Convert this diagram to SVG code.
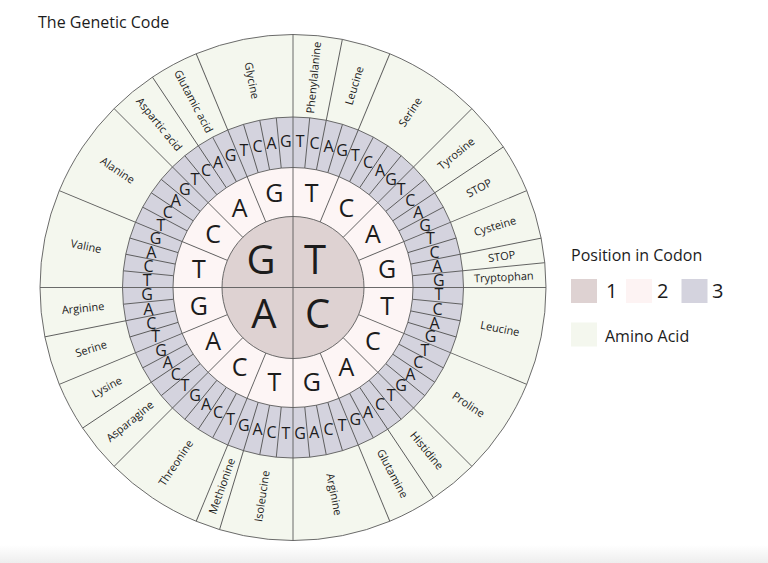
<svg xmlns="http://www.w3.org/2000/svg" xmlns:xlink="http://www.w3.org/1999/xlink" width="768" height="563" viewBox="0 0 768 563">
<defs>
<style>
.ln{stroke:#5a5a5a;stroke-width:0.9}
.t{font-family:"Open Sans","Noto Sans",sans-serif;fill:#1c1c1c}
.b3{font-size:16px;text-anchor:middle}
.b2{font-size:25px;text-anchor:middle}
.b1{font-size:40px;text-anchor:middle}
.aa{font-size:11px;text-anchor:middle}
</style>
<linearGradient id="shade" x1="0" y1="0" x2="0" y2="1">
<stop offset="0" stop-color="#ffffff"/>
<stop offset="1" stop-color="#eeeeee"/>
</linearGradient>
<line id="cl" class="ln" x1="0" y1="-120" x2="0" y2="-170.5"/>
<line id="al" class="ln" x1="0" y1="-120" x2="0" y2="-253"/>
<line id="ml" class="ln" x1="0" y1="-71" x2="0" y2="-253"/>
</defs>
<rect width="768" height="563" fill="#ffffff"/>
<rect x="0" y="545" width="768" height="18" fill="url(#shade)"/>
<text id="title" class="t" x="38" y="28" font-size="16">The Genetic Code</text>
<g transform="translate(293,287.5)">
<g id="amino-ring">
<circle r="253" fill="#f4f7ee" class="ln"/>
</g>
<g id="ring3">
<circle r="170.5" fill="#d4d3de" class="ln"/>
</g>
<g id="ring2">
<circle r="120" fill="#fdf5f5" class="ln"/>
</g>
<g id="ring1">
<circle r="71" fill="#ded2d2" class="ln"/>
</g>
<g id="dividers">
<line class="ln" x1="0" y1="-253" x2="0" y2="253"/>
<line class="ln" x1="-253" y1="0" x2="253" y2="0"/>
<use xlink:href="#ml" transform="rotate(22.5)"/>
<use xlink:href="#ml" transform="rotate(45)"/>
<use xlink:href="#ml" transform="rotate(67.5)"/>
<use xlink:href="#ml" transform="rotate(112.5)"/>
<use xlink:href="#ml" transform="rotate(135)"/>
<use xlink:href="#ml" transform="rotate(157.5)"/>
<use xlink:href="#ml" transform="rotate(202.5)"/>
<use xlink:href="#ml" transform="rotate(225)"/>
<use xlink:href="#ml" transform="rotate(247.5)"/>
<use xlink:href="#ml" transform="rotate(292.5)"/>
<use xlink:href="#ml" transform="rotate(315)"/>
<use xlink:href="#ml" transform="rotate(337.5)"/>
<use xlink:href="#al" transform="rotate(11.25)"/>
<use xlink:href="#al" transform="rotate(56.25)"/>
<use xlink:href="#al" transform="rotate(78.75)"/>
<use xlink:href="#al" transform="rotate(84.375)"/>
<use xlink:href="#al" transform="rotate(146.25)"/>
<use xlink:href="#al" transform="rotate(196.875)"/>
<use xlink:href="#al" transform="rotate(236.25)"/>
<use xlink:href="#al" transform="rotate(258.75)"/>
<use xlink:href="#al" transform="rotate(326.25)"/>
<use xlink:href="#cl" transform="rotate(5.625)"/>
<use xlink:href="#cl" transform="rotate(16.875)"/>
<use xlink:href="#cl" transform="rotate(28.125)"/>
<use xlink:href="#cl" transform="rotate(33.75)"/>
<use xlink:href="#cl" transform="rotate(39.375)"/>
<use xlink:href="#cl" transform="rotate(50.625)"/>
<use xlink:href="#cl" transform="rotate(61.875)"/>
<use xlink:href="#cl" transform="rotate(73.125)"/>
<use xlink:href="#cl" transform="rotate(95.625)"/>
<use xlink:href="#cl" transform="rotate(101.25)"/>
<use xlink:href="#cl" transform="rotate(106.875)"/>
<use xlink:href="#cl" transform="rotate(118.125)"/>
<use xlink:href="#cl" transform="rotate(123.75)"/>
<use xlink:href="#cl" transform="rotate(129.375)"/>
<use xlink:href="#cl" transform="rotate(140.625)"/>
<use xlink:href="#cl" transform="rotate(151.875)"/>
<use xlink:href="#cl" transform="rotate(163.125)"/>
<use xlink:href="#cl" transform="rotate(168.75)"/>
<use xlink:href="#cl" transform="rotate(174.375)"/>
<use xlink:href="#cl" transform="rotate(185.625)"/>
<use xlink:href="#cl" transform="rotate(191.25)"/>
<use xlink:href="#cl" transform="rotate(208.125)"/>
<use xlink:href="#cl" transform="rotate(213.75)"/>
<use xlink:href="#cl" transform="rotate(219.375)"/>
<use xlink:href="#cl" transform="rotate(230.625)"/>
<use xlink:href="#cl" transform="rotate(241.875)"/>
<use xlink:href="#cl" transform="rotate(253.125)"/>
<use xlink:href="#cl" transform="rotate(264.375)"/>
<use xlink:href="#cl" transform="rotate(275.625)"/>
<use xlink:href="#cl" transform="rotate(281.25)"/>
<use xlink:href="#cl" transform="rotate(286.875)"/>
<use xlink:href="#cl" transform="rotate(298.125)"/>
<use xlink:href="#cl" transform="rotate(303.75)"/>
<use xlink:href="#cl" transform="rotate(309.375)"/>
<use xlink:href="#cl" transform="rotate(320.625)"/>
<use xlink:href="#cl" transform="rotate(331.875)"/>
<use xlink:href="#cl" transform="rotate(343.125)"/>
<use xlink:href="#cl" transform="rotate(348.75)"/>
<use xlink:href="#cl" transform="rotate(354.375)"/>
</g>
<g id="ring1-text" class="t b1">
<text x="-32" y="-14">G</text>
<text x="22" y="-14">T</text>
<text x="-29" y="40.8">A</text>
<text x="24.5" y="40.8">C</text>
</g>
<g id="ring2-text" class="t b2">
<text transform="rotate(11.25) translate(0,-96) rotate(-11.25)" y="8.9">T</text>
<text transform="rotate(33.75) translate(0,-96) rotate(-33.75)" y="8.9">C</text>
<text transform="rotate(56.25) translate(0,-96) rotate(-56.25)" y="8.9">A</text>
<text transform="rotate(78.75) translate(0,-96) rotate(-78.75)" y="8.9">G</text>
<text transform="rotate(101.25) translate(0,-96) rotate(-101.25)" y="8.9">T</text>
<text transform="rotate(123.75) translate(0,-96) rotate(-123.75)" y="8.9">C</text>
<text transform="rotate(146.25) translate(0,-96) rotate(-146.25)" y="8.9">A</text>
<text transform="rotate(168.75) translate(0,-96) rotate(-168.75)" y="8.9">G</text>
<text transform="rotate(191.25) translate(0,-96) rotate(-191.25)" y="8.9">T</text>
<text transform="rotate(213.75) translate(0,-96) rotate(-213.75)" y="8.9">C</text>
<text transform="rotate(236.25) translate(0,-96) rotate(-236.25)" y="8.9">A</text>
<text transform="rotate(258.75) translate(0,-96) rotate(-258.75)" y="8.9">G</text>
<text transform="rotate(281.25) translate(0,-96) rotate(-281.25)" y="8.9">T</text>
<text transform="rotate(303.75) translate(0,-96) rotate(-303.75)" y="8.9">C</text>
<text transform="rotate(326.25) translate(0,-96) rotate(-326.25)" y="8.9">A</text>
<text transform="rotate(348.75) translate(0,-96) rotate(-348.75)" y="8.9">G</text>
</g>
<g id="ring3-text" class="t b3">
<text transform="rotate(2.8125) translate(0,-146) rotate(-2.8125)" y="5.7">T</text>
<text transform="rotate(8.4375) translate(0,-146) rotate(-8.4375)" y="5.7">C</text>
<text transform="rotate(14.0625) translate(0,-146) rotate(-14.0625)" y="5.7">A</text>
<text transform="rotate(19.6875) translate(0,-146) rotate(-19.6875)" y="5.7">G</text>
<text transform="rotate(25.3125) translate(0,-146) rotate(-25.3125)" y="5.7">T</text>
<text transform="rotate(30.9375) translate(0,-146) rotate(-30.9375)" y="5.7">C</text>
<text transform="rotate(36.5625) translate(0,-146) rotate(-36.5625)" y="5.7">A</text>
<text transform="rotate(42.1875) translate(0,-146) rotate(-42.1875)" y="5.7">G</text>
<text transform="rotate(47.8125) translate(0,-146) rotate(-47.8125)" y="5.7">T</text>
<text transform="rotate(53.4375) translate(0,-146) rotate(-53.4375)" y="5.7">C</text>
<text transform="rotate(59.0625) translate(0,-146) rotate(-59.0625)" y="5.7">A</text>
<text transform="rotate(64.6875) translate(0,-146) rotate(-64.6875)" y="5.7">G</text>
<text transform="rotate(70.3125) translate(0,-146) rotate(-70.3125)" y="5.7">T</text>
<text transform="rotate(75.9375) translate(0,-146) rotate(-75.9375)" y="5.7">C</text>
<text transform="rotate(81.5625) translate(0,-146) rotate(-81.5625)" y="5.7">A</text>
<text transform="rotate(87.1875) translate(0,-146) rotate(-87.1875)" y="5.7">G</text>
<text transform="rotate(92.8125) translate(0,-146) rotate(-92.8125)" y="5.7">T</text>
<text transform="rotate(98.4375) translate(0,-146) rotate(-98.4375)" y="5.7">C</text>
<text transform="rotate(104.0625) translate(0,-146) rotate(-104.0625)" y="5.7">A</text>
<text transform="rotate(109.6875) translate(0,-146) rotate(-109.6875)" y="5.7">G</text>
<text transform="rotate(115.3125) translate(0,-146) rotate(-115.3125)" y="5.7">T</text>
<text transform="rotate(120.9375) translate(0,-146) rotate(-120.9375)" y="5.7">C</text>
<text transform="rotate(126.5625) translate(0,-146) rotate(-126.5625)" y="5.7">A</text>
<text transform="rotate(132.1875) translate(0,-146) rotate(-132.1875)" y="5.7">G</text>
<text transform="rotate(137.8125) translate(0,-146) rotate(-137.8125)" y="5.7">T</text>
<text transform="rotate(143.4375) translate(0,-146) rotate(-143.4375)" y="5.7">C</text>
<text transform="rotate(149.0625) translate(0,-146) rotate(-149.0625)" y="5.7">A</text>
<text transform="rotate(154.6875) translate(0,-146) rotate(-154.6875)" y="5.7">G</text>
<text transform="rotate(160.3125) translate(0,-146) rotate(-160.3125)" y="5.7">T</text>
<text transform="rotate(165.9375) translate(0,-146) rotate(-165.9375)" y="5.7">C</text>
<text transform="rotate(171.5625) translate(0,-146) rotate(-171.5625)" y="5.7">A</text>
<text transform="rotate(177.1875) translate(0,-146) rotate(-177.1875)" y="5.7">G</text>
<text transform="rotate(182.8125) translate(0,-146) rotate(-182.8125)" y="5.7">T</text>
<text transform="rotate(188.4375) translate(0,-146) rotate(-188.4375)" y="5.7">C</text>
<text transform="rotate(194.0625) translate(0,-146) rotate(-194.0625)" y="5.7">A</text>
<text transform="rotate(199.6875) translate(0,-146) rotate(-199.6875)" y="5.7">G</text>
<text transform="rotate(205.3125) translate(0,-146) rotate(-205.3125)" y="5.7">T</text>
<text transform="rotate(210.9375) translate(0,-146) rotate(-210.9375)" y="5.7">C</text>
<text transform="rotate(216.5625) translate(0,-146) rotate(-216.5625)" y="5.7">A</text>
<text transform="rotate(222.1875) translate(0,-146) rotate(-222.1875)" y="5.7">G</text>
<text transform="rotate(227.8125) translate(0,-146) rotate(-227.8125)" y="5.7">T</text>
<text transform="rotate(233.4375) translate(0,-146) rotate(-233.4375)" y="5.7">C</text>
<text transform="rotate(239.0625) translate(0,-146) rotate(-239.0625)" y="5.7">A</text>
<text transform="rotate(244.6875) translate(0,-146) rotate(-244.6875)" y="5.7">G</text>
<text transform="rotate(250.3125) translate(0,-146) rotate(-250.3125)" y="5.7">T</text>
<text transform="rotate(255.9375) translate(0,-146) rotate(-255.9375)" y="5.7">C</text>
<text transform="rotate(261.5625) translate(0,-146) rotate(-261.5625)" y="5.7">A</text>
<text transform="rotate(267.1875) translate(0,-146) rotate(-267.1875)" y="5.7">G</text>
<text transform="rotate(272.8125) translate(0,-146) rotate(-272.8125)" y="5.7">T</text>
<text transform="rotate(278.4375) translate(0,-146) rotate(-278.4375)" y="5.7">C</text>
<text transform="rotate(284.0625) translate(0,-146) rotate(-284.0625)" y="5.7">A</text>
<text transform="rotate(289.6875) translate(0,-146) rotate(-289.6875)" y="5.7">G</text>
<text transform="rotate(295.3125) translate(0,-146) rotate(-295.3125)" y="5.7">T</text>
<text transform="rotate(300.9375) translate(0,-146) rotate(-300.9375)" y="5.7">C</text>
<text transform="rotate(306.5625) translate(0,-146) rotate(-306.5625)" y="5.7">A</text>
<text transform="rotate(312.1875) translate(0,-146) rotate(-312.1875)" y="5.7">G</text>
<text transform="rotate(317.8125) translate(0,-146) rotate(-317.8125)" y="5.7">T</text>
<text transform="rotate(323.4375) translate(0,-146) rotate(-323.4375)" y="5.7">C</text>
<text transform="rotate(329.0625) translate(0,-146) rotate(-329.0625)" y="5.7">A</text>
<text transform="rotate(334.6875) translate(0,-146) rotate(-334.6875)" y="5.7">G</text>
<text transform="rotate(340.3125) translate(0,-146) rotate(-340.3125)" y="5.7">T</text>
<text transform="rotate(345.9375) translate(0,-146) rotate(-345.9375)" y="5.7">C</text>
<text transform="rotate(351.5625) translate(0,-146) rotate(-351.5625)" y="5.7">A</text>
<text transform="rotate(357.1875) translate(0,-146) rotate(-357.1875)" y="5.7">G</text>
</g>
<g id="amino-text" class="t aa">
<text transform="rotate(5.625) translate(0,-211) rotate(-90)" dy="0.35em">Phenylalanine</text>
<text transform="rotate(16.875) translate(0,-211) rotate(-90)" dy="0.35em">Leucine</text>
<text transform="rotate(33.75) translate(0,-211) rotate(-90)" dy="0.35em">Serine</text>
<text transform="rotate(50.625) translate(0,-211) rotate(-90)" dy="0.35em">Tyrosine</text>
<text transform="rotate(61.875) translate(0,-211) rotate(-90)" dy="0.35em">STOP</text>
<text transform="rotate(73.125) translate(0,-211) rotate(-90)" dy="0.35em">Cysteine</text>
<text transform="rotate(81.5625) translate(0,-211) rotate(-90)" dy="0.35em">STOP</text>
<text transform="rotate(87.1875) translate(0,-211) rotate(-90)" dy="0.35em">Tryptophan</text>
<text transform="rotate(101.25) translate(0,-211) rotate(-90)" dy="0.35em">Leucine</text>
<text transform="rotate(123.75) translate(0,-211) rotate(-90)" dy="0.35em">Proline</text>
<text transform="rotate(140.625) translate(0,-211) rotate(-90)" dy="0.35em">Histidine</text>
<text transform="rotate(151.875) translate(0,-211) rotate(-90)" dy="0.35em">Glutamine</text>
<text transform="rotate(168.75) translate(0,-211) rotate(-90)" dy="0.35em">Arginine</text>
<text transform="rotate(188.4375) translate(0,-211) rotate(90)" dy="0.35em">Isoleucine</text>
<text transform="rotate(199.6875) translate(0,-211) rotate(90)" dy="0.35em">Methionine</text>
<text transform="rotate(213.75) translate(0,-211) rotate(90)" dy="0.35em">Threonine</text>
<text transform="rotate(230.625) translate(0,-211) rotate(90)" dy="0.35em">Asparagine</text>
<text transform="rotate(241.875) translate(0,-211) rotate(90)" dy="0.35em">Lysine</text>
<text transform="rotate(253.125) translate(0,-211) rotate(90)" dy="0.35em">Serine</text>
<text transform="rotate(264.375) translate(0,-211) rotate(90)" dy="0.35em">Arginine</text>
<text transform="rotate(281.25) translate(0,-211) rotate(90)" dy="0.35em">Valine</text>
<text transform="rotate(303.75) translate(0,-211) rotate(90)" dy="0.35em">Alanine</text>
<text transform="rotate(320.625) translate(0,-211) rotate(90)" dy="0.35em">Aspartic acid</text>
<text transform="rotate(331.875) translate(0,-211) rotate(90)" dy="0.35em">Glutamic acid</text>
<text transform="rotate(348.75) translate(0,-211) rotate(90)" dy="0.35em">Glycine</text>
</g>
</g>
<g id="legend" class="t">
<text x="571" y="261" font-size="16">Position in Codon</text>
<rect x="571" y="279" width="26" height="24" fill="#ded2d2"/>
<text x="606" y="298" font-size="20">1</text>
<rect x="626" y="279" width="26" height="24" fill="#fdf3f3"/>
<text x="657" y="298" font-size="20">2</text>
<rect x="681.5" y="279" width="26" height="24" fill="#d4d3de"/>
<text x="712" y="298" font-size="20">3</text>
<rect x="571" y="322.5" width="26" height="24" fill="#f4f7ee"/>
<text x="605" y="342" font-size="16">Amino Acid</text>
</g>
</svg>
